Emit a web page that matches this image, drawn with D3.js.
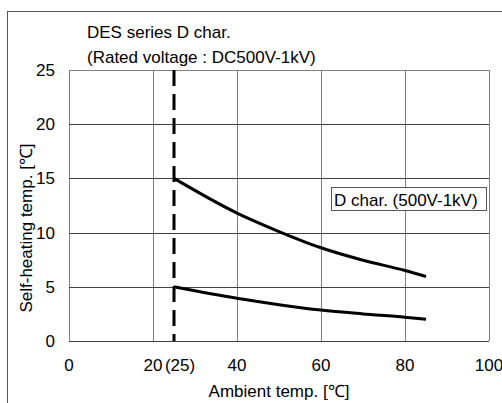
<!DOCTYPE html>
<html><head><meta charset="utf-8">
<script src="https://cdn.jsdelivr.net/npm/d3@7"></script>
<style>
html,body{margin:0;padding:0;background:#fff;}
svg{display:block;font-family:"Liberation Sans",Arial,sans-serif;}
</style></head>
<body>
<svg id="chart" width="502" height="403"></svg>
<script>
const titleLines = ["DES series D char.", "(Rated voltage : DC500V-1kV)"];
const xTicks = [0, 20, 40, 60, 80, 100];
const yTicks = [0, 5, 10, 15, 20, 25];
const ratedTemp = 25;
const ratedLabel = "(25)";
const upperX = [25, 40, 50, 60, 70, 80, 85];
const upperY = [15, 11.8, 10.1, 8.6, 7.45, 6.5, 5.95];
const lowerX = [25, 40, 50, 60, 70, 80, 85];
const lowerY = [5, 3.94, 3.35, 2.85, 2.5, 2.2, 2.0];
const legendText = "D char. (500V-1kV)";
const xTitle = "Ambient temp. [℃]";
const yTitle = "Self-heating temp. [℃]";

const FS = 17;
const svg = d3.select("#chart");
const x = d3.scaleLinear().domain([0, 100]).range([69, 489]);
const y = d3.scaleLinear().domain([0, 25]).range([341, 70]);

// outer frame
svg.append("rect").attr("x", 7.5).attr("y", 11.5).attr("width", 500).attr("height", 400)
  .attr("fill", "none").attr("stroke", "#555").attr("stroke-width", 1);

// grid
svg.append("g").selectAll("line").data(xTicks).join("line")
  .attr("x1", d => Math.round(x(d)) + 0.5).attr("x2", d => Math.round(x(d)) + 0.5)
  .attr("y1", y(25)).attr("y2", y(0))
  .attr("stroke", "#808080").attr("stroke-width", 1);
svg.append("g").selectAll("line").data(yTicks).join("line")
  .attr("x1", x(0)).attr("x2", x(100))
  .attr("y1", d => Math.round(y(d)) + 0.5).attr("y2", d => Math.round(y(d)) + 0.5)
  .attr("stroke", d => d === 25 ? "#808080" : "#404040").attr("stroke-width", 1);

// tick labels
svg.append("g").selectAll("text").data(yTicks).join("text")
  .attr("x", x(0) - 14).attr("y", d => y(d) + 6)
  .attr("text-anchor", "end").attr("font-size", FS).attr("fill", "#000")
  .text(d => d);
svg.append("g").selectAll("text").data(xTicks).join("text")
  .attr("x", d => x(d)).attr("y", 371)
  .attr("text-anchor", "middle").attr("font-size", FS).attr("fill", "#000")
  .text(d => d);
svg.append("text").attr("x", x(ratedTemp) + 6).attr("y", 371)
  .attr("text-anchor", "middle").attr("font-size", FS).text(ratedLabel);

// dashed line at rated temp
svg.append("line").attr("x1", x(ratedTemp)).attr("x2", x(ratedTemp))
  .attr("y1", y(25)).attr("y2", y(0))
  .attr("stroke", "#000").attr("stroke-width", 3).attr("stroke-dasharray", "16,8");

// curves
const line = d3.line().x(d => x(d[0])).y(d => y(d[1])).curve(d3.curveMonotoneX);
svg.append("path").datum(upperX.map((v, i) => [v, upperY[i]]))
  .attr("d", line).attr("fill", "none").attr("stroke", "#000").attr("stroke-width", 3);
svg.append("path").datum(lowerX.map((v, i) => [v, lowerY[i]]))
  .attr("d", line).attr("fill", "none").attr("stroke", "#000").attr("stroke-width", 3);

// legend
svg.append("rect").attr("x", 331.5).attr("y", 187.5).attr("width", 155).attr("height", 23)
  .attr("fill", "#fff").attr("stroke", "#555").attr("stroke-width", 1);
svg.append("text").attr("x", 334).attr("y", 206).attr("font-size", FS).text(legendText);

// title
svg.append("g").selectAll("text").data(titleLines).join("text")
  .attr("x", 87).attr("y", (d, i) => 38 + i * 25)
  .attr("font-size", FS).text(d => d);

// axis titles
svg.append("text").attr("x", (x(0) + x(100)) / 2).attr("y", 397)
  .attr("text-anchor", "middle").attr("font-size", FS).text(xTitle);
svg.append("text").attr("transform", "translate(32,228) rotate(-90)")
  .attr("text-anchor", "middle").attr("font-size", FS).text(yTitle);
</script>
</body></html>
